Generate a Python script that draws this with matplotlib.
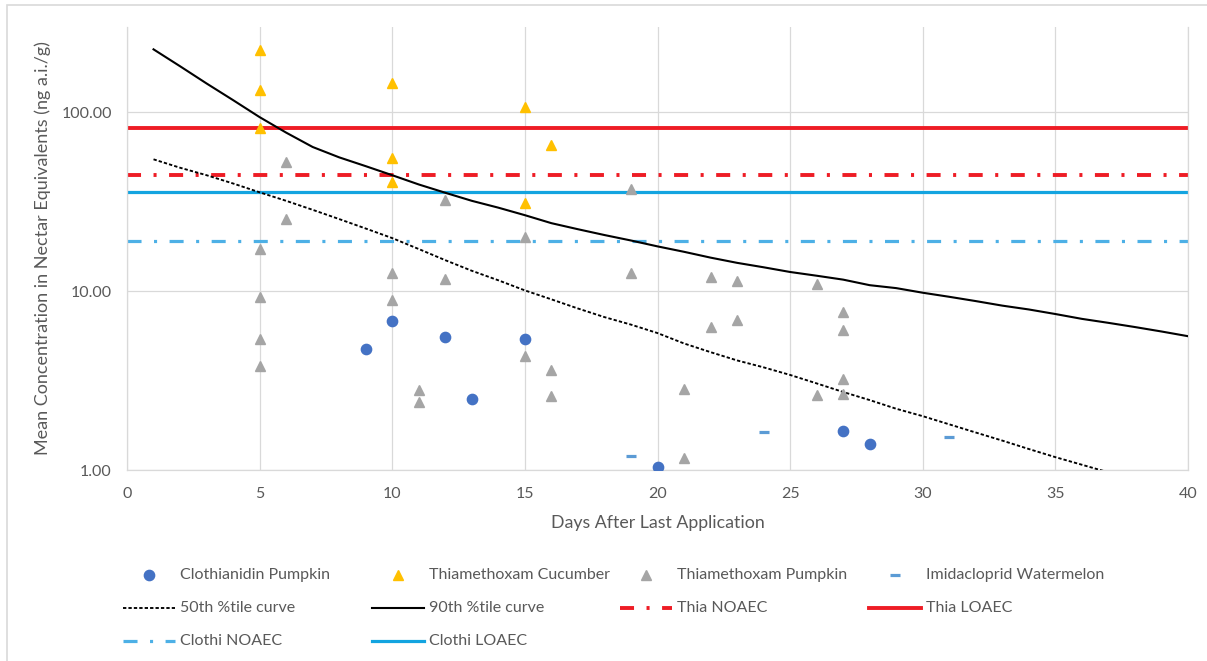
import matplotlib
matplotlib.use("Agg")
import matplotlib.pyplot as plt
from matplotlib.lines import Line2D
from matplotlib.patches import Rectangle
from matplotlib.ticker import FixedLocator, FixedFormatter, NullLocator

plt.rcParams['font.family'] = ['Lato', 'DejaVu Sans']
plt.rcParams['lines.scale_dashes'] = False

# ---- data ----
clothi_pumpkin_days = [9, 10, 12, 13, 15, 20, 27, 28]
clothi_pumpkin_conc = [4.74, 6.80, 5.53, 2.49, 5.39, 1.04, 1.65, 1.40]

thia_cucumber_days = [5, 5, 5, 10, 10, 10, 15, 15, 16]
thia_cucumber_conc = [222, 134, 81.4, 145, 55.3, 40.6, 106.7, 31.0, 65.4]

thia_pumpkin_days = [5, 5, 5, 5, 6, 6, 10, 10, 11, 11, 12, 12, 15, 15, 16, 16,
                     19, 19, 21, 21, 22, 22, 23, 23, 26, 26, 27, 27, 27, 27]
thia_pumpkin_conc = [17.2, 9.26, 5.39, 3.81, 52.6, 25.2, 12.6, 8.9, 2.80, 2.40,
                     32.2, 11.7, 20.0, 4.33, 3.62, 2.59, 37.1, 12.6, 2.84, 1.17,
                     12.0, 6.29, 11.4, 6.89, 10.9, 2.62, 7.63, 6.06, 3.22, 2.66]

imida_watermelon_days = [19, 24, 31]
imida_watermelon_conc = [1.20, 1.63, 1.53]

curve50_days = list(range(1, 38))
curve50_conc = [54.6, 49.0, 44.5, 40.0, 35.7, 32.0, 28.5, 25.3, 22.4, 19.8,
                17.2, 14.9, 13.0, 11.5, 10.1, 9.0, 8.0, 7.16, 6.5, 5.83,
                5.1, 4.56, 4.1, 3.75, 3.40, 3.05, 2.73, 2.46, 2.2, 2.0,
                1.8, 1.62, 1.46, 1.31, 1.18, 1.07, 0.97]

curve90_days = list(range(1, 41))
curve90_conc = [225, 181, 145, 117, 94, 77, 64, 56, 50, 44.5,
                39.5, 35.5, 32, 29.3, 26.6, 24, 22.2, 20.6, 19.2, 17.8,
                16.6, 15.4, 14.4, 13.6, 12.8, 12.2, 11.6, 10.8, 10.4, 9.8,
                9.3, 8.8, 8.3, 7.9, 7.45, 7.0, 6.65, 6.3, 5.95, 5.6]

thia_noaec = 44.5
thia_loaec = 81.4
clothi_noaec = 19.0
clothi_loaec = 35.7

x_ticks = [0, 5, 10, 15, 20, 25, 30, 35, 40]
y_ticks = [1, 10, 100]
y_tick_labels = ["1.00", "10.00", "100.00"]

# ---- styles ----
TXT = '#595959'
GRID = '#D9D9D9'
DASHDOT = (0, (10.1, 9.0, 2.2, 9.0))

W, H = 1207, 661
fig = plt.figure(figsize=(W / 100, H / 100), dpi=100)
fig.patch.set_facecolor('white')


def fx(px):
    return px / W


def fy(py):
    return 1 - py / H


ax = fig.add_axes([fx(127), fy(470), (1188 - 127) / W, (470 - 27) / H])
ax.set_yscale('log')
ax.set_xlim(0, 40)
ax.set_ylim(1, 300)

styles = {
    'Clothianidin Pumpkin': dict(marker='o', ls='none', ms=7.4, mfc='#4472C4', mec='#4472C4'),
    'Thiamethoxam Cucumber': dict(marker='^', ls='none', ms=7.6, mfc='#FFC000', mec='#FFC000'),
    'Thiamethoxam Pumpkin': dict(marker='^', ls='none', ms=7.6, mfc='#A5A5A5', mec='#A5A5A5'),
    'Imidacloprid Watermelon': dict(marker='_', ls='none', ms=7.2, mew=2.3, mec='#5B9BD5'),
    '50th %tile curve': dict(color='black', lw=1.35, ls=(0, (2.4, 1.5))),
    '90th %tile curve': dict(color='black', lw=1.5, ls='-'),
    'Thia NOAEC': dict(color='#EE1C25', lw=2.8, ls=DASHDOT, dash_capstyle='butt'),
    'Thia LOAEC': dict(color='#EE1C25', lw=2.8, ls='-'),
    'Clothi NOAEC': dict(color='#4DB0E6', lw=2.3, ls=DASHDOT, dash_capstyle='butt'),
    'Clothi LOAEC': dict(color='#13A4E0', lw=2.3, ls='-'),
}

# threshold lines
ax.axhline(clothi_noaec, zorder=2, **styles['Clothi NOAEC'])
ax.axhline(clothi_loaec, zorder=2, **styles['Clothi LOAEC'])
ax.axhline(thia_noaec, zorder=2, **styles['Thia NOAEC'])
ax.axhline(thia_loaec, zorder=2, **styles['Thia LOAEC'])

# percentile curves
ax.plot(curve50_days, curve50_conc, zorder=3, **styles['50th %tile curve'])
ax.plot(curve90_days, curve90_conc, zorder=3, **styles['90th %tile curve'])

# residue measurements
ax.plot(thia_pumpkin_days, thia_pumpkin_conc, zorder=4, **styles['Thiamethoxam Pumpkin'])
ax.plot(thia_cucumber_days, thia_cucumber_conc, zorder=4, **styles['Thiamethoxam Cucumber'])
ax.plot(clothi_pumpkin_days, clothi_pumpkin_conc, zorder=5, **styles['Clothianidin Pumpkin'])
ax.plot(imida_watermelon_days, imida_watermelon_conc, zorder=5, **styles['Imidacloprid Watermelon'])

# axes cosmetics
ax.xaxis.set_major_locator(FixedLocator(x_ticks))
ax.yaxis.set_major_locator(FixedLocator(y_ticks))
ax.yaxis.set_major_formatter(FixedFormatter(y_tick_labels))
ax.yaxis.set_minor_locator(NullLocator())
ax.grid(True, which='major', color=GRID, lw=0.9, zorder=0)
ax.set_axisbelow(True)
ax.spines['top'].set_visible(False)
for side in ('left', 'right', 'bottom'):
    ax.spines[side].set_color(GRID)
    ax.spines[side].set_linewidth(0.9)
ax.tick_params(axis='both', length=0, labelsize=11.5, labelcolor=TXT)
ax.tick_params(axis='x', pad=12)
ax.tick_params(axis='y', pad=11)

ax.set_xlabel('Days After Last Application', fontsize=12.8, color=TXT, labelpad=10)
ax.set_ylabel('Mean Concentration in Nectar Equivalents (ng a.i./g)', fontsize=13,
              color=TXT, labelpad=7)

# legend laid out in a fixed grid beneath the plot
legend_rows = [
    ['Clothianidin Pumpkin', 'Thiamethoxam Cucumber', 'Thiamethoxam Pumpkin', 'Imidacloprid Watermelon'],
    ['50th %tile curve', '90th %tile curve', 'Thia NOAEC', 'Thia LOAEC'],
    ['Clothi NOAEC', 'Clothi LOAEC'],
]
col_text_x = [180, 429, 677, 926]
row_y = [575, 608, 641]
for r, names in enumerate(legend_rows):
    for c, name in enumerate(names):
        st = dict(styles[name])
        tx = col_text_x[c]
        yy = fy(row_y[r])
        if st.get('ls') == 'none':
            cx = tx - 31
            fig.add_artist(Line2D([fx(cx)], [yy], transform=fig.transFigure, **st))
        else:
            fig.add_artist(Line2D([fx(tx - 57), fx(tx - 5)], [yy, yy],
                                  transform=fig.transFigure, **st))
        fig.text(fx(tx), yy, name, fontsize=11.5, color=TXT, ha='left', va='center')

# chart frame
fig.add_artist(Rectangle((fx(7), fy(672)), fx(1225) - fx(7), fy(5) - fy(672),
                         transform=fig.transFigure, fill=False, edgecolor=GRID, lw=1.2))

fig.savefig('out.png', dpi=100, facecolor='white')
